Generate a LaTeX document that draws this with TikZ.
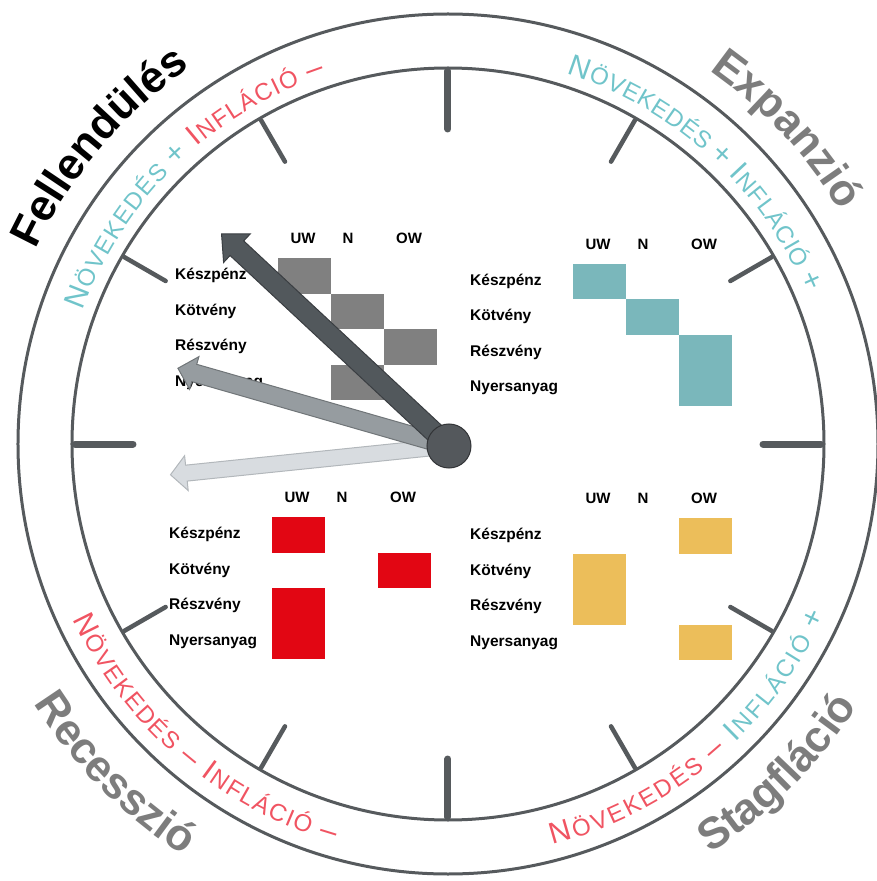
\documentclass[tikz,border=0pt]{standalone}
\usepackage{fontspec}
\setmainfont{Liberation Sans}
\usepackage{xcolor}
\usepackage{tikz}
\usetikzlibrary{decorations.text}
\definecolor{clockline}{RGB}{86,90,93}
\definecolor{ringteal}{RGB}{112,196,202}
\definecolor{ringred}{RGB}{240,84,98}
\definecolor{phasegray}{RGB}{125,125,125}
\definecolor{cellgray}{RGB}{128,128,128}
\definecolor{cellteal}{RGB}{122,183,187}
\definecolor{cellred}{RGB}{226,6,19}
\definecolor{cellyellow}{RGB}{236,190,90}
\newcommand\phasefont{\bfseries\fontsize{44}{44}\selectfont}
\newcommand\ringbig{\fontsize{30}{30}\selectfont}
\newcommand\ringsmall{\fontsize{24}{24}\selectfont}
\tikzset{
  rim/.style     ={draw=clockline, line width=3pt},
  tickmaj/.style ={draw=clockline, line width=7pt, line cap=round},
  tickmin/.style ={draw=clockline, line width=4.5pt, line cap=round},
  hdr/.style     ={font=\bfseries\fontsize{15}{15}\selectfont, inner sep=0pt, anchor=base},
  rowlab/.style  ={font=\bfseries\fontsize{15.5}{15.5}\selectfont, inner sep=0pt, anchor=base west},
  handdark/.style ={fill={rgb,255:red,82;green,88;blue,92}, draw={rgb,255:red,58;green,62;blue,66}, line width=1pt},
  handmid/.style  ={fill={rgb,255:red,150;green,156;blue,160}, draw={rgb,255:red,112;green,117;blue,120}, line width=1pt},
  handlight/.style={fill={rgb,255:red,216;green,220;blue,224}, draw={rgb,255:red,178;green,183;blue,187}, line width=1pt},
  hubdisc/.style ={circle, minimum size=44pt, inner sep=0pt, fill={rgb,255:red,84;green,88;blue,92}, draw={rgb,255:red,50;green,52;blue,55}, line width=1pt},
}

\begin{document}
\begin{tikzpicture}[x=1pt,y=1pt]
  \useasboundingbox (-448,-437) rectangle (429,444);
  \draw[rim] (0,0) circle[radius=430];
  \draw[rim] (0,0) circle[radius=376];
  \draw[tickmaj] (90:373) -- (90:315);
  \draw[tickmin] (60:374) -- (60:326);
  \draw[tickmin] (30:374) -- (30:326);
  \draw[tickmaj] (0:373) -- (0:315);
  \draw[tickmin] (-30:374) -- (-30:326);
  \draw[tickmin] (-60:374) -- (-60:326);
  \draw[tickmaj] (-90:373) -- (-90:315);
  \draw[tickmin] (-120:374) -- (-120:326);
  \draw[tickmin] (-150:374) -- (-150:326);
  \draw[tickmaj] (180:373) -- (180:315);
  \draw[tickmin] (150:374) -- (150:326);
  \draw[tickmin] (120:374) -- (120:326);

  \path[decorate,decoration={text along path,text align=center,text={|\phasefont|Fellendülés}}] (169.6:456) arc[start angle=169.6,end angle=109.6,radius=456];
  \path[decorate,decoration={text along path,text align=center,text={|\phasefont\color{phasegray}|Expanzió}}] (72.9:456) arc[start angle=72.9,end angle=12.9,radius=456];
  \path[decorate,decoration={text along path,text align=center,text={|\phasefont\color{phasegray}|Recesszió}}] (194.7:489) arc[start angle=194.7,end angle=254.7,radius=489];
  \path[decorate,decoration={text along path,text align=center,text={|\phasefont\color{phasegray}|Stagfláció}}] (-75:486) arc[start angle=-75,end angle=-15,radius=486];

  \path[decorate,decoration={text along path,text align=fit to path,text={|\ringbig\color{ringteal}|N|\ringsmall\color{ringteal}|ÖVEKEDÉS |\ringbig\color{ringteal}|+ |\ringbig\color{ringred}|I|\ringsmall\color{ringred}|NFLÁCIÓ |\ringbig\color{ringred}|–}}] (160:389) arc[start angle=160,end angle=108.5,radius=389];
  \path[decorate,decoration={text along path,text align=fit to path,text={|\ringbig\color{ringteal}|N|\ringsmall\color{ringteal}|ÖVEKEDÉS |\ringbig\color{ringteal}|+ I|\ringsmall\color{ringteal}|NFLÁCIÓ |\ringbig\color{ringteal}|+}}] (72.2:389) arc[start angle=72.2,end angle=23,radius=389];
  \path[decorate,decoration={text along path,text align=fit to path,text={|\ringbig\color{ringred}|N|\ringsmall\color{ringred}|ÖVEKEDÉS |\ringbig\color{ringred}|– I|\ringsmall\color{ringred}|NFLÁCIÓ |\ringbig\color{ringred}|–}}] (205:414) arc[start angle=205,end angle=254,radius=414];
  \path[decorate,decoration={text along path,text align=fit to path,text={|\ringbig\color{ringred}|N|\ringsmall\color{ringred}|ÖVEKEDÉS |\ringbig\color{ringred}|– |\ringbig\color{ringteal}|I|\ringsmall\color{ringteal}|NFLÁCIÓ |\ringbig\color{ringteal}|+}}] (-75.4:414) arc[start angle=-75.4,end angle=-24.4,radius=414];

  \begin{scope}[shift={(-170,185.5)}]
    \fill[cellgray] (0,0) rectangle (53,-35.5);
    \fill[cellgray] (53,-35.5) rectangle (106,-71);
    \fill[cellgray] (106,-71) rectangle (159,-106.5);
    \fill[cellgray] (53,-106.5) rectangle (106,-142);
    \node[hdr] (tl-uw) at (25,14.5) {UW};
    \node[hdr] (tl-n) at (70,14.5) {N};
    \node[hdr] (tl-ow) at (131,14.5) {OW};
    \node[rowlab] (tl-ksz) at (-103,-21.5) {Készpénz};
    \node[rowlab] (tl-kot) at (-103,-57) {Kötvény};
    \node[rowlab] (tl-rsz) at (-103,-92.5) {Részvény};
    \node[rowlab] (tl-nya) at (-103,-128) {Nyersanyag};
  \end{scope}
  \begin{scope}[shift={(125,180)}]
    \fill[cellteal] (0,0) rectangle (53,-35.5);
    \fill[cellteal] (53,-35.5) rectangle (106,-71);
    \fill[cellteal] (106,-71) rectangle (159,-142);
    \node[hdr] (tr-uw) at (25,14.5) {UW};
    \node[hdr] (tr-n) at (70,14.5) {N};
    \node[hdr] (tr-ow) at (131,14.5) {OW};
    \node[rowlab] (tr-ksz) at (-103,-21.5) {Készpénz};
    \node[rowlab] (tr-kot) at (-103,-57) {Kötvény};
    \node[rowlab] (tr-rsz) at (-103,-92.5) {Részvény};
    \node[rowlab] (tr-nya) at (-103,-128) {Nyersanyag};
  \end{scope}
  \begin{scope}[shift={(-176,-73)}]
    \fill[cellred] (0,0) rectangle (53,-35.5);
    \fill[cellred] (106,-35.5) rectangle (159,-71);
    \fill[cellred] (0,-71) rectangle (53,-142);
    \node[hdr] (bl-uw) at (25,14.5) {UW};
    \node[hdr] (bl-n) at (70,14.5) {N};
    \node[hdr] (bl-ow) at (131,14.5) {OW};
    \node[rowlab] (bl-ksz) at (-103,-21.5) {Készpénz};
    \node[rowlab] (bl-kot) at (-103,-57) {Kötvény};
    \node[rowlab] (bl-rsz) at (-103,-92.5) {Részvény};
    \node[rowlab] (bl-nya) at (-103,-128) {Nyersanyag};
  \end{scope}
  \begin{scope}[shift={(125,-74)}]
    \fill[cellyellow] (106,0) rectangle (159,-35.5);
    \fill[cellyellow] (0,-35.5) rectangle (53,-106.5);
    \fill[cellyellow] (106,-106.5) rectangle (159,-142);
    \node[hdr] (br-uw) at (25,14.5) {UW};
    \node[hdr] (br-n) at (70,14.5) {N};
    \node[hdr] (br-ow) at (131,14.5) {OW};
    \node[rowlab] (br-ksz) at (-103,-21.5) {Készpénz};
    \node[rowlab] (br-kot) at (-103,-57) {Kötvény};
    \node[rowlab] (br-rsz) at (-103,-92.5) {Részvény};
    \node[rowlab] (br-nya) at (-103,-128) {Nyersanyag};
  \end{scope}

  \coordinate (hub) at (1,-2);
  \begin{scope}[shift={(hub)},rotate=185.9]
    \draw[handlight] (0,-8) -- (264,-8) -- (264,-17.5) -- (280,0) -- (264,17.5) -- (264,8) -- (0,8) -- cycle;
  \end{scope}
  \begin{scope}[shift={(hub)},rotate=164]
    \draw[handmid] (0,-9) -- (265,-9) -- (265,-17) -- (282,0) -- (265,17) -- (265,9) -- (0,9) -- cycle;
  \end{scope}
  \begin{scope}[shift={(hub)},rotate=137]
    \draw[handdark] (0,-10) -- (290,-10) -- (290,-19.5) -- (311,0) -- (290,19.5) -- (290,10) -- (0,10) -- cycle;
  \end{scope}
  \node[hubdisc] (hubcap) at (hub) {};
\end{tikzpicture}
\end{document}
